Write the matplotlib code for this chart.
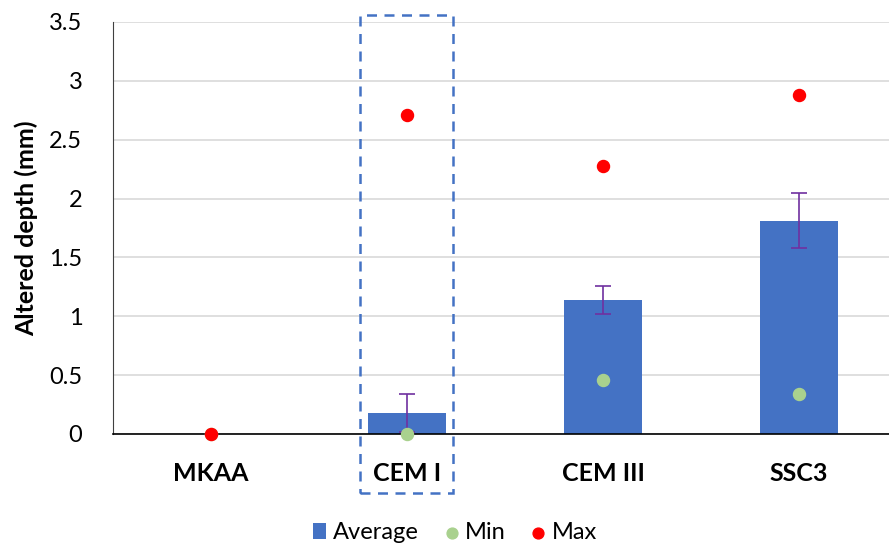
import matplotlib.pyplot as plt
from matplotlib.patches import Rectangle

plt.rcParams['font.family'] = ['Lato', 'DejaVu Sans']

categories = ["MKAA", "CEM I", "CEM III", "SSC3"]
average = [0.0, 0.18, 1.14, 1.81]
err_low = [0.0, 0.16, 0.12, 0.23]
err_high = [0.0, 0.16, 0.12, 0.24]
min_vals = [0.0, 0.0, 0.46, 0.34]
max_vals = [0.0, 2.71, 2.28, 2.88]
yticks = [0, 0.5, 1, 1.5, 2, 2.5, 3, 3.5]

fig = plt.figure(figsize=(8.89, 5.47), dpi=100)
ax = fig.add_axes([0.127, 0.2066, 0.882, 0.7532])

x = list(range(len(categories)))
bars = ax.bar(x, average, width=0.4, color="#4472C4", label="Average", zorder=2)
ax.errorbar(x[1:], average[1:], yerr=[err_low[1:], err_high[1:]], fmt="none",
            ecolor="#7030A0", elinewidth=1.2, capsize=6, capthick=1.2, zorder=3)
mins = ax.scatter(x, min_vals, s=75, color="#A9D18E", label="Min", zorder=4, clip_on=False)
maxs = ax.scatter(x, max_vals, s=75, color="#FF0000", label="Max", zorder=5, clip_on=False)

ax.set_xlim(-0.5, 3.5)
ax.set_ylim(0, 3.5)
ax.set_yticks(yticks)
ax.set_yticklabels([f"{t:g}" for t in yticks], fontsize=17)
ax.set_xticks(x)
ax.set_xticklabels(categories, fontsize=18, fontweight="bold")
ax.set_ylabel("Altered depth (mm)", fontsize=18, fontweight="bold", labelpad=8)
ax.tick_params(length=0)
ax.tick_params(axis="y", pad=22)
ax.tick_params(axis="x", pad=20)
ax.grid(axis="y", color="#D9D9D9", linewidth=1.2, zorder=0)
ax.set_axisbelow(True)
for s in ["top", "right"]:
    ax.spines[s].set_visible(False)
ax.spines["left"].set_color("#404040")
ax.spines["bottom"].set_color("#000000")
ax.spines["bottom"].set_linewidth(1.2)

# dashed highlight box around CEM I
box = Rectangle((0.763, -0.5), 0.474, 4.06, fill=False, edgecolor="#4472C4",
                linestyle=(0, (4, 3)), linewidth=1.8, clip_on=False, zorder=6)
ax.add_patch(box)

fig.legend([bars, mins, maxs], ["Average", "Min", "Max"], loc="center",
           bbox_to_anchor=(0.512, 0.026), ncol=3, frameon=False, fontsize=17,
           handlelength=0.55, handleheight=0.7, handletextpad=0.3,
           columnspacing=1.1, markerscale=0.9)

fig.savefig("out.png", dpi=100)
